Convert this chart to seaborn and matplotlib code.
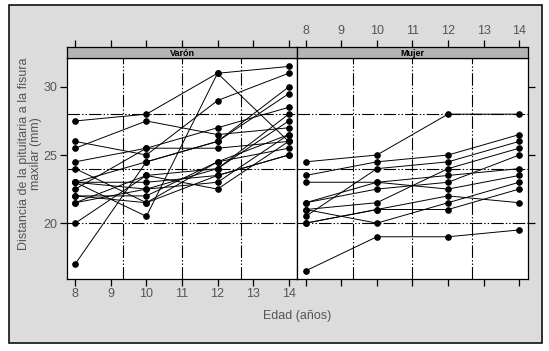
import numpy as np
import pandas as pd
import matplotlib
matplotlib.use('Agg')
import matplotlib.pyplot as plt
from matplotlib.patches import Rectangle
import seaborn as sns

sns.set_theme(style='white')
plt.rcParams['font.family'] = ['Liberation Sans', 'DejaVu Sans']
plt.rcParams['lines.scale_dashes'] = False

# Orthodont data: distancia (mm) a los 8, 10, 12 y 14 años
edades = [8, 10, 12, 14]

varon_distancia = [
    [26.0, 25.0, 29.0, 31.0],
    [21.5, 22.5, 23.0, 26.5],
    [23.0, 22.5, 24.0, 27.5],
    [25.5, 27.5, 26.5, 27.0],
    [20.0, 23.5, 22.5, 26.0],
    [24.5, 25.5, 27.0, 28.5],
    [22.0, 22.0, 24.5, 26.5],
    [24.0, 21.5, 24.5, 25.5],
    [23.0, 20.5, 31.0, 26.0],
    [27.5, 28.0, 31.0, 31.5],
    [23.0, 23.0, 23.5, 25.0],
    [21.5, 23.5, 24.0, 28.0],
    [17.0, 24.5, 26.0, 29.5],
    [22.5, 25.5, 25.5, 26.0],
    [23.0, 24.5, 26.0, 30.0],
    [22.0, 21.5, 23.5, 25.0],
]

mujer_distancia = [
    [21.0, 20.0, 21.5, 23.0],
    [21.0, 21.5, 24.0, 25.5],
    [20.5, 24.0, 24.5, 26.0],
    [23.5, 24.5, 25.0, 26.5],
    [21.5, 23.0, 22.5, 23.5],
    [20.0, 21.0, 21.0, 22.5],
    [21.5, 22.5, 23.0, 25.0],
    [23.0, 23.0, 23.5, 24.0],
    [20.0, 21.0, 22.0, 21.5],
    [16.5, 19.0, 19.0, 19.5],
    [24.5, 25.0, 28.0, 28.0],
]

paneles = ['Varón', 'Mujer']
ref_x = [9.33, 11.0, 12.67]
ref_y = [20, 24, 28]


def to_long(valores, prefijo):
    filas = []
    for i, fila in enumerate(valores):
        for e, d in zip(edades, fila):
            filas.append({'sujeto': f'{prefijo}{i + 1:02d}', 'edad': e, 'distancia': d})
    return pd.DataFrame(filas)


datos = {'Varón': to_long(varon_distancia, 'M'), 'Mujer': to_long(mujer_distancia, 'F')}

W, H = 549, 351
fig = plt.figure(figsize=(W / 100, H / 100), dpi=100)
fig.patch.set_facecolor('white')

# gray frame round the whole chart
fig.patches.append(Rectangle((8.5 / W, 1 - 342.5 / H), 533 / W, 337.5 / H,
                             transform=fig.transFigure, facecolor='#dcdcdc',
                             edgecolor='#111111', linewidth=1.2, zorder=-5))

grey = '#555555'
dash = (0, (9, 1.5, 1, 1.5, 1, 1.5))
panel_w = 230.5 / W
panel_b = 1 - 279 / H
panel_h = (279 - 58.3) / H
strip_h = (58.3 - 46.7) / H
lefts = [66.7 / W, 66.7 / W + panel_w]

for k, nombre in enumerate(paneles):
    ax = fig.add_axes([lefts[k], panel_b, panel_w, panel_h])
    ax.set_facecolor('white')
    for xv in ref_x:
        ax.axvline(xv, color='black', lw=0.8, linestyle=dash, zorder=1)
    for yv in ref_y:
        ax.axhline(yv, color='black', lw=0.8, linestyle=dash, zorder=1)

    sns.lineplot(data=datos[nombre], x='edad', y='distancia', units='sujeto',
                 estimator=None, color='black', linewidth=0.7, marker='o',
                 markersize=4, markeredgecolor='black', ax=ax, zorder=3)

    ax.set_xlim(7.76, 14.24)
    ax.set_ylim(15.9, 32.1)
    ax.set_xticks(range(8, 15))
    ax.set_yticks([20, 25, 30])
    ax.set_xlabel('')
    ax.set_ylabel('')
    for s in ax.spines.values():
        s.set_color('black')
        s.set_linewidth(0.9)
    ax.tick_params(direction='out', length=5, width=0.9, color='black',
                   labelcolor=grey, labelsize=9, pad=1.5,
                   bottom=True, labelbottom=(k == 0),
                   left=(k == 0), labelleft=(k == 0),
                   right=(k == 1), labelright=False)

    # strip on top of the panel
    st = fig.add_axes([lefts[k], panel_b + panel_h, panel_w, strip_h], sharex=ax)
    st.set_facecolor('#b4b4b4')
    st.set_yticks([])
    for s in st.spines.values():
        s.set_color('black')
        s.set_linewidth(0.9)
    st.tick_params(axis='x', direction='out', length=5, width=0.9, color='black',
                   labelcolor=grey, labelsize=9, pad=2,
                   top=True, labeltop=(k == 1), bottom=False, labelbottom=False)
    st.text(0.5, 0.45, nombre, transform=st.transAxes, ha='center', va='center',
            fontsize=6.5, fontweight='bold', color='black')

fig.text(30 / W, 1 - 153.5 / H, 'Distancia de la pituitaria a la fisura\nmaxilar (mm)',
         rotation=90, ha='center', va='center', multialignment='center',
         linespacing=1.0, fontsize=9, color=grey)
fig.text(297 / W, 1 - 316 / H, 'Edad (años)', ha='center', va='center',
         fontsize=9, color=grey)

fig.savefig('out.png', dpi=100, facecolor='white')
